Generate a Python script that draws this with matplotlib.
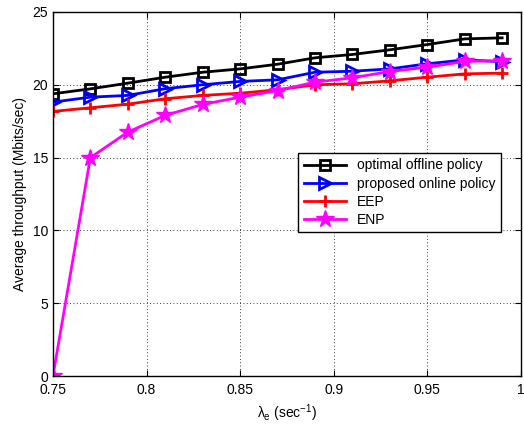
import matplotlib
matplotlib.use('Agg')
import matplotlib.pyplot as plt

plt.rcParams['font.family'] = ['Liberation Sans', 'DejaVu Sans']
plt.rcParams['mathtext.fontset'] = 'custom'
plt.rcParams['mathtext.rm'] = 'Liberation Sans'
plt.rcParams['mathtext.it'] = 'Liberation Sans'

lam = [0.75, 0.77, 0.79, 0.81, 0.83, 0.85, 0.87, 0.89, 0.91, 0.93, 0.95, 0.97, 0.99]
offline = [19.38, 19.72, 20.11, 20.52, 20.86, 21.09, 21.41, 21.85, 22.08, 22.40, 22.76, 23.15, 23.22]
online = [18.81, 19.15, 19.27, 19.73, 20.0, 20.23, 20.34, 20.86, 20.93, 21.09, 21.44, 21.71, 21.58]
eep = [18.17, 18.42, 18.67, 19.04, 19.27, 19.42, 19.66, 20.0, 20.07, 20.27, 20.52, 20.75, 20.8]
enp = [0.0, 15.0, 16.75, 17.9, 18.65, 19.15, 19.6, 20.18, 20.48, 20.91, 21.21, 21.6, 21.66]

xticks = [0.75, 0.8, 0.85, 0.9, 0.95, 1.0]
xticklabels = ['0.75', '0.8', '0.85', '0.9', '0.95', '1']
yticks = [0, 5, 10, 15, 20, 25]

fig = plt.figure(figsize=(5.24, 4.26), dpi=100)
ax = fig.add_axes([0.101, 0.117, 0.893, 0.855])

ax.plot(lam, offline, color='black', lw=2, marker='s', ms=7, mfc='none', mew=2,
        label='optimal offline policy')
ax.plot(lam, online, color='blue', lw=2, marker='>', ms=9, mfc='none', mew=2,
        label='proposed online policy')
ax.plot(lam, eep, color='red', lw=2, marker='+', ms=9, mew=2, label='EEP')
ax.plot(lam, enp, color='magenta', lw=2, marker='*', ms=13, mew=1,
        label='ENP')

ax.set_xlim(0.75, 1.0)
ax.set_ylim(0, 25)
ax.set_xticks(xticks)
ax.set_xticklabels(xticklabels)
ax.set_yticks(yticks)
ax.tick_params(direction='in', top=True, right=True, labelsize=10, length=4)
ax.tick_params(axis='x', pad=5)
ax.grid(True, linestyle=(0, (1, 3)), color='black', lw=0.6)
for s in ax.spines.values():
    s.set_linewidth(1)

ax.set_xlabel(r'$\lambda_e$ (sec$^{-1}$)', fontsize=10)
ax.set_ylabel('Average throughput (Mbits/sec)', fontsize=10)

leg = ax.legend(loc='upper right', bbox_to_anchor=(0.957, 0.613), fontsize=10,
                fancybox=False, edgecolor='black', framealpha=1,
                borderaxespad=0, handlelength=3, labelspacing=0.3)
leg.get_frame().set_linewidth(1)

fig.savefig('out.png', dpi=100)
